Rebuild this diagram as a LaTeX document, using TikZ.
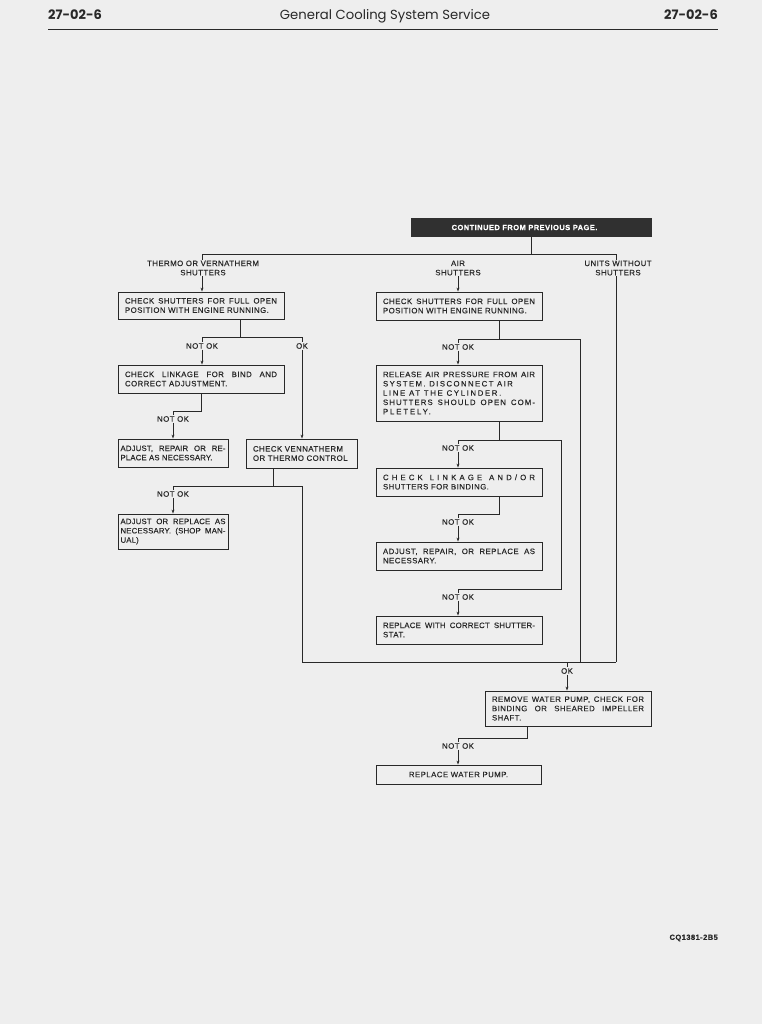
\documentclass[tikz,border=0pt]{standalone}
\usepackage{fontspec}
\setmainfont[LetterSpace=6, FakeBold=0.3]{Liberation Sans}
\newfontfamily\tightf[LetterSpace=2, FakeBold=0.3]{Liberation Sans}
\newfontfamily\hdrfont{Poppins}
\usetikzlibrary{arrows.meta}
\definecolor{paper}{RGB}{238,238,238}
\definecolor{ink}{RGB}{40,40,40}
\definecolor{bannerc}{RGB}{48,48,48}
\newcommand\bxf{\fontsize{7.8}{9.3}\selectfont\tolerance=10000\hyphenpenalty=10000\relax}
\newcommand\nbxf{\tightf\fontsize{7.8}{9.3}\selectfont\tolerance=10000\hyphenpenalty=10000\relax}
\newcommand\lsp[2]{{\addfontfeature{LetterSpace=#1}#2}}
\begin{document}
\begin{tikzpicture}[x=1pt,y=-1pt,
  box/.style={draw=ink, line width=0.8pt, align=justify, inner ysep=0pt, inner xsep=7pt,
    text width=152pt, font=\bxf, text=ink},
  nbox/.style={box, font=\nbxf, inner xsep=2.5pt, text width=105pt},
  lbl/.style={font=\bxf, inner sep=0.8pt, text=ink, align=center},
  ln/.style={draw=ink, line width=0.7pt},
  arr/.style={ln, -{Stealth[length=4pt,width=2.8pt]}}]
\useasboundingbox[fill=paper] (0,0) rectangle (762,1024);
% header
\node[font=\hdrfont\bfseries\fontsize{13}{15}\selectfont, text=ink, anchor=west, inner sep=0] (pl) at (48,15) {27-02-6};
\node[font=\hdrfont\fontsize{13.2}{15}\selectfont, text=ink, inner sep=0] (title) at (385,16) {General Cooling System Service};
\node[font=\hdrfont\bfseries\fontsize{13}{15}\selectfont, text=ink, anchor=east, inner sep=0] (pr) at (718,15) {27-02-6};
\coordinate (hl) at (48,29.5);
\coordinate (hr) at (718,29.5);
\draw[ink, line width=1.6pt] (hl) -- (hr);
% banner
\node[fill=bannerc, minimum width=241pt, minimum height=19pt, inner sep=0, text=white,
  font=\bfseries\fontsize{7.5}{9}\selectfont] (ban) at (531.5,227.5) {CONTINUED FROM PREVIOUS PAGE.\hspace*{14pt}};
% top labels
\node[lbl] (lt) at (203,268) {THERMO OR VERNATHERM\\SHUTTERS};
\node[lbl] (la) at (458,268) {AIR\\SHUTTERS};
\node[lbl] (lu) at (618,268) {UNITS WITHOUT\\SHUTTERS};
% boxes
\node[box, minimum height=27pt] (L1) at (201,305.5) {CHECK SHUTTERS FOR FULL OPEN\linebreak POSITION WITH ENGINE RUNNING.};
\node[box, minimum height=28pt] (M1) at (459,306) {CHECK SHUTTERS FOR FULL OPEN\linebreak POSITION WITH ENGINE RUNNING.};
\node[box, minimum height=28pt] (L2) at (201,379) {CHECK LINKAGE FOR BIND AND\linebreak CORRECT ADJUSTMENT.};
\node[nbox, minimum height=28pt] (L3) at (173,453) {ADJUST, REPAIR OR RE-\linebreak PLACE AS NECESSARY.};
\node[box, minimum height=29pt, inner xsep=7pt, text width=97pt] (V) at (301.5,453.5) {CHECK VENNATHERM\\OR THERMO CONTROL};
\node[nbox, minimum height=35pt] (L4) at (173,531.5) {ADJUST OR REPLACE AS\linebreak NECESSARY. (SHOP MAN-\linebreak UAL)};
\node[box, minimum height=56pt] (M2) at (459,393) {RELEASE AIR PRESSURE FROM AIR\linebreak \lsp{18}{SYSTEM. DISCONNECT AIR}\\\lsp{21}{LINE AT THE CYLINDER.}\\\lsp{14}{SHUTTERS SHOULD OPEN COM-}\linebreak \lsp{24}{PLETELY.}};
\node[box, minimum height=28pt] (M3) at (459,482) {\lsp{40}{CHECK LINKAGE AND/OR}\linebreak SHUTTERS FOR BINDING.};
\node[box, minimum height=28pt] (M4) at (459,556) {ADJUST, REPAIR, OR REPLACE AS\linebreak NECESSARY.};
\node[box, minimum height=28pt] (M5) at (459,630) {\lsp{3}{REPLACE WITH CORRECT SHUTTER-}\linebreak STAT.};
\node[box, minimum height=35pt] (B1) at (568,708.5) {REMOVE WATER PUMP, CHECK FOR\linebreak BINDING OR SHEARED IMPELLER\linebreak SHAFT.};
\node[box, minimum height=19pt, text width=151pt, align=center] (B2) at (458.5,774.5) {REPLACE WATER PUMP.};
% branch labels
\node[lbl] (n1) at (202,346) {NOT OK};
\node[lbl] (o1) at (302,346) {OK};
\node[lbl] (n2) at (173,419) {NOT OK};
\node[lbl] (n3) at (173,494) {NOT OK};
\node[lbl] (n4) at (458,347) {NOT OK};
\node[lbl] (n5) at (458,448) {NOT OK};
\node[lbl] (n6) at (458,522) {NOT OK};
\node[lbl] (n7) at (458,597) {NOT OK};
\node[lbl] (o2) at (567,671) {OK};
\node[lbl] (n8) at (458,746) {NOT OK};
% junction coordinates
\coordinate (tm) at (531.5,254);
\coordinate (tl) at (202,254);
\coordinate (tr) at (616,254);
\coordinate (a1) at (240,337);
\coordinate (a1l) at (202,337);
\coordinate (a1r) at (302,337);
\coordinate (a2) at (201,411);
\coordinate (a2l) at (173,411);
\coordinate (a3) at (273,486);
\coordinate (a3l) at (173,486);
\coordinate (a3r) at (302,486);
\coordinate (b1) at (499,339);
\coordinate (b1l) at (458,339);
\coordinate (b1r) at (580,339);
\coordinate (b2) at (499,440);
\coordinate (b2l) at (458,440);
\coordinate (b2r) at (561,440);
\coordinate (b3) at (499,514);
\coordinate (b3l) at (458,514);
\coordinate (b4r) at (561,589);
\coordinate (b4l) at (458,589);
\coordinate (c0l) at (302,662);
\coordinate (c0r) at (616,662);
\coordinate (c0m) at (580,662);
\coordinate (c0o) at (567,662);
\coordinate (d1) at (527,738);
\coordinate (d1l) at (458,738);
% connectors
\draw[ln] (ban.south -| tm) -- (tm);
\draw[ln] (tl) -- (tr);
\draw[ln] (tl) -- (tl |- lt.north);
\draw[ln] (tr) -- (tr |- lu.north);
\draw[arr] (tl |- lt.south) -- (tl |- L1.north);
\draw[arr] (la.south) -- (la.south |- M1.north);
\draw[ln] (tr |- lu.south) -- (c0r);
% left column
\draw[ln] (a1 |- L1.south) -- (a1);
\draw[ln] (a1l) -- (a1r);
\draw[ln] (a1l) -- (n1.north);
\draw[arr] (n1.south) -- (n1.south |- L2.north);
\draw[ln] (a1r) -- (o1.north);
\draw[arr] (o1.south) -- (o1.south |- V.north);
\draw[ln] (a2 |- L2.south) -- (a2) -- (a2l) -- (n2.north);
\draw[arr] (n2.south) -- (n2.south |- L3.north);
\draw[ln] (a3 |- V.south) -- (a3);
\draw[ln] (a3l) -- (a3r);
\draw[ln] (a3l) -- (n3.north);
\draw[arr] (n3.south) -- (n3.south |- L4.north);
\draw[ln] (a3r) -- (c0l) -- (c0r);
% middle column
\draw[ln] (b1 |- M1.south) -- (b1);
\draw[ln] (b1l) -- (b1r) -- (c0m);
\draw[ln] (b1l) -- (n4.north);
\draw[arr] (n4.south) -- (n4.south |- M2.north);
\draw[ln] (b2 |- M2.south) -- (b2);
\draw[ln] (b2l) -- (b2r) -- (b4r) -- (b4l) -- (n7.north);
\draw[ln] (b2l) -- (n5.north);
\draw[arr] (n5.south) -- (n5.south |- M3.north);
\draw[ln] (b3 |- M3.south) -- (b3) -- (b3l) -- (n6.north);
\draw[arr] (n6.south) -- (n6.south |- M4.north);
\draw[arr] (n7.south) -- (n7.south |- M5.north);
% bottom
\draw[ln] (c0o) -- (o2.north);
\draw[arr] (o2.south) -- (o2.south |- B1.north);
\draw[ln] (d1 |- B1.south) -- (d1) -- (d1l) -- (n8.north);
\draw[arr] (n8.south) -- (n8.south |- B2.north);
% footer
\node[font=\bfseries\fontsize{7.5}{9}\selectfont, text=ink, anchor=east, inner sep=0] (code) at (718,938) {CQ1381-2B5};
\end{tikzpicture}
\end{document}
